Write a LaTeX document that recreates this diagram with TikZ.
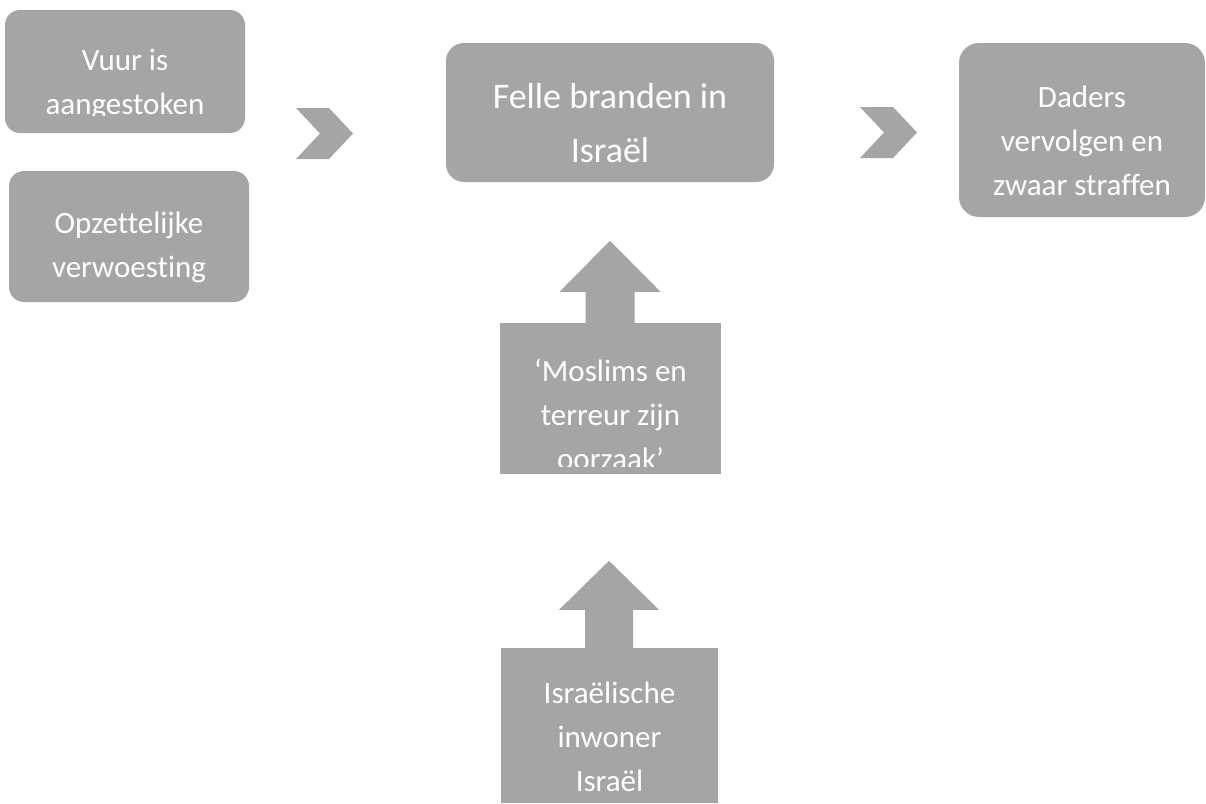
\documentclass[tikz,border=0pt]{standalone}
\usepackage{fontspec}
\setmainfont[Ligatures=NoCommon]{Carlito}
\definecolor{boxgray}{HTML}{A5A5A5}
\tikzset{
  card/.style={shape=rectangle, fill=boxgray, rounded corners=#1, inner sep=0pt},
  card/.default=16pt,
  plate/.style={shape=rectangle, fill=boxgray, inner sep=0pt},
  txt/.style={text=white, align=center, anchor=base, inner sep=0pt, font=\fontsize{31}{44}\selectfont},
  bigtxt/.style={txt, font=\fontsize{36}{54}\selectfont}
}
\begin{document}
\begin{tikzpicture}[x=1pt, y=-1pt]
\useasboundingbox (0,0) rectangle (1206,803);
\node[card=15pt, minimum width=240pt, minimum height=123pt] (vuur) at (125,71.5) {};
\node[card=15pt, minimum width=240pt, minimum height=131pt] (opzet) at (129,236.5) {};
\node[card=18pt, minimum width=328pt, minimum height=139pt] (brand) at (610,112.5) {};
\node[card=20pt, minimum width=246pt, minimum height=174pt] (daders) at (1082,130) {};
\node[plate, minimum width=221pt, minimum height=151pt] (moslims) at (610.5,398.5) {};
\node[plate, minimum width=217pt, minimum height=155pt] (inwoner) at (609.5,725.5) {};
\fill[boxgray] (296,108) -- (329,108) -- (353,133.5) -- (329,159) -- (296,159) -- (320,133.5) -- cycle;
\fill[boxgray] (860,107) -- (893,107) -- (917,132.5) -- (893,158) -- (860,158) -- (884,132.5) -- cycle;
\fill[boxgray] ([xshift=-25pt]moslims.north) -- ++(0,-31) -- ++(-26,0) -- ++(50.5,-51) -- ++(50.5,51) -- ++(-26,0) -- ++(0,31) -- cycle;
\fill[boxgray] ([xshift=-24.5pt]inwoner.north) -- ++(0,-38) -- ++(-26,0) -- ++(50,-49) -- ++(50,49) -- ++(-26,0) -- ++(0,38) -- cycle;
\begin{scope}
\clip (0,0) rectangle (250,115);
\node[txt] (vuurtxt) at (125,114) {Vuur is\\aangestoken};
\end{scope}
\node[txt] (opzettxt) at (129,277) {Opzettelijke\\verwoesting};
\node[bigtxt] (brandtxt) at (610,162) {Felle branden in\\Israël};
\node[txt] (daderstxt) at (1082,195) {Daders\\vervolgen en\\zwaar straffen};
\begin{scope}
\clip (490,320) rectangle (730,466);
\node[txt] (moslimstxt) at (610.5,469) {‘Moslims en\\terreur zijn\\oorzaak’};
\end{scope}
\node[txt] (inwonertxt) at (609.5,791) {Israëlische\\inwoner\\Israël};
\end{tikzpicture}
\end{document}
